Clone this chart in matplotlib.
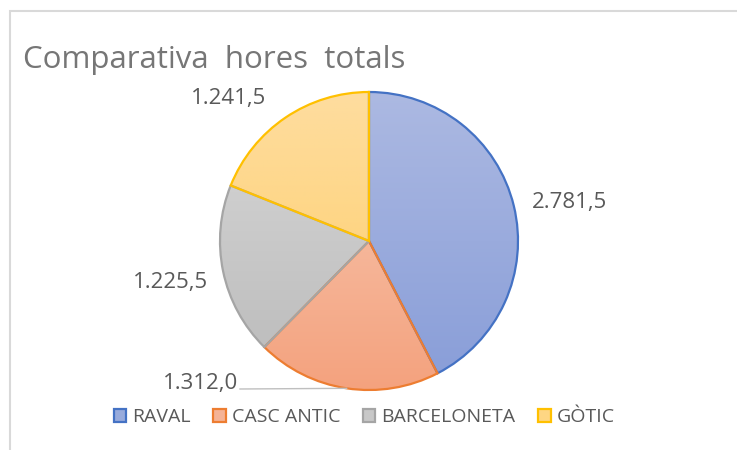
import numpy as np
import matplotlib
matplotlib.use("Agg")
import matplotlib.pyplot as plt
from matplotlib.colors import LinearSegmentedColormap
from matplotlib.patches import Patch, Rectangle

# ---- data ----
categories = ["RAVAL", "CASC ANTIC", "BARCELONETA", "GÒTIC"]
values = [2781.5, 1312.0, 1225.5, 1241.5]
value_labels = ["2.781,5", "1.312,0", "1.225,5", "1.241,5"]
title = "Comparativa  hores  totals"

# ---- style ----
edge_colors = ["#4472C4", "#ED7D31", "#A5A5A5", "#FFC000"]
grad_top = ["#ACB9E2", "#F8CBB6", "#D8D8D8", "#FEDD9F"]
grad_bot = ["#889DD8", "#F4A27E", "#BABABA", "#FECD66"]
legend_fill = ["#98ABDC", "#F5B396", "#C8C8C8", "#FED683"]
text_color = "#595959"
FONT = ["Open Sans", "DejaVu Sans"]

W, H = 737, 450
fig = plt.figure(figsize=(W / 100, H / 100), dpi=100)
ax = fig.add_axes([0, 0, 1, 1])

cx, cy, r = 369, H - 241, 149
wedges, _ = ax.pie(values, center=(cx, cy), radius=r, startangle=90,
                   counterclock=False,
                   wedgeprops=dict(linewidth=1.6, joinstyle="miter"))
ax.set_xlim(0, W)
ax.set_ylim(0, H)
ax.set_aspect("equal")
ax.axis("off")

grad = np.linspace(0, 1, 256).reshape(-1, 1)
for w, ec, c0, c1 in zip(wedges, edge_colors, grad_top, grad_bot):
    cmap = LinearSegmentedColormap.from_list("g", [c1, c0])
    im = ax.imshow(grad, cmap=cmap, extent=(cx - r, cx + r, cy - r, cy + r),
                   origin="lower", aspect="auto", zorder=1, interpolation="bilinear")
    im.set_clip_path(w)
    w.set_facecolor("none")
    w.set_edgecolor(ec)
    w.set_zorder(2)
ax.set_xlim(0, W)
ax.set_ylim(0, H)

# chart border
ax.add_patch(Rectangle((10.5, -5), W + 10, H - 10.5 + 5, fill=False,
                       edgecolor="#D9D9D9", linewidth=1.5, zorder=0))

# title
ax.text(23, H - 68, title, fontsize=22.5, color="#767676", family=FONT,
        ha="left", va="baseline")

# data labels (left, baseline) in pixels
label_pos = [(532, 208), (163, 389), (133, 288), (191, 104)]
for (lx, ly), t in zip(label_pos, value_labels):
    ax.text(lx, H - ly, t, fontsize=16, color=text_color, family=FONT,
            ha="left", va="baseline")

# leader line for CASC ANTIC label, ending at mid-arc of its wedge
w = wedges[1]
mid = np.deg2rad((w.theta1 + w.theta2) / 2)
ax.plot([240, cx + r * np.cos(mid)], [H - 389, cy + r * np.sin(mid)],
        color="#BFBFBF", linewidth=1.0, zorder=3)

# legend
handles = [Patch(facecolor=f, edgecolor=e, linewidth=1.6) for f, e in zip(legend_fill, edge_colors)]
leg = ax.legend(handles, categories, loc="center", bbox_to_anchor=(364 / W, 1 - 417 / H),
                ncol=4, frameon=False, prop=dict(family=FONT, size=14),
                handlelength=0.66, handleheight=0.66, handletextpad=0.3,
                columnspacing=1.15, borderaxespad=0)
for t in leg.get_texts():
    t.set_color(text_color)

fig.savefig("out.png", dpi=100)
